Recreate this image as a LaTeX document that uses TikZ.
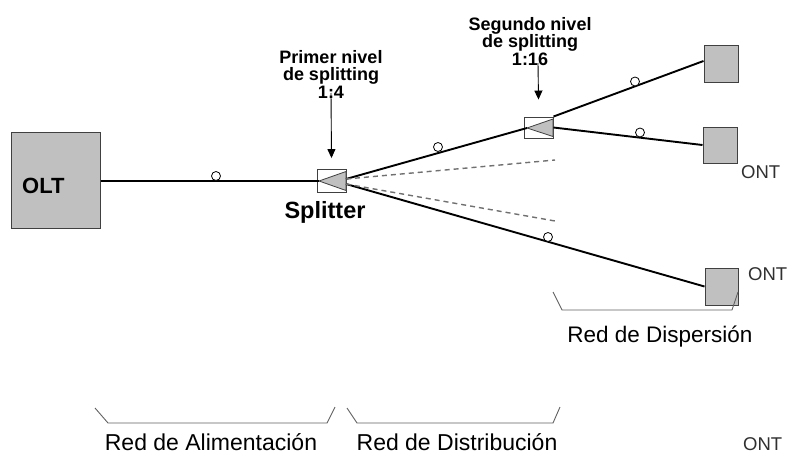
\documentclass[tikz,border=0pt]{standalone}
\usepackage{fontspec}
\setmainfont{Liberation Sans}
\usetikzlibrary{arrows.meta}
\definecolor{boxgray}{HTML}{C0C0C0}
\definecolor{edgegray}{HTML}{404040}
\definecolor{brkgray}{HTML}{606060}
\definecolor{dashgray}{HTML}{707070}
\definecolor{txtgray}{HTML}{303030}
\begin{document}
\begin{tikzpicture}[x=1pt,y=-1pt,
  box/.style={draw=edgegray, fill=boxgray, line width=1pt, inner sep=0pt},
  splitbox/.style={draw=edgegray, fill=white, line width=0.9pt, inner sep=0pt},
  wedge/.style={draw=edgegray, fill=boxgray, line width=0.8pt},
  fiber/.style={line width=1.9pt, black},
  tap/.style={circle, draw=black, fill=white, line width=0.8pt, minimum size=9pt, inner sep=0pt},
  dashfiber/.style={dashgray, line width=1.4pt, dash pattern=on 5pt off 4pt},
  pointer/.style={line width=0.9pt, -{Triangle[length=9pt,width=8pt]}},
  bracket/.style={brkgray, line width=0.9pt},
  lvl/.style={font=\bfseries\fontsize{18}{17.5}\selectfont, align=center, inner sep=0pt, anchor=north},
  netlbl/.style={font=\fontsize{22.5}{24}\selectfont, inner sep=0pt, anchor=base},
  ontlbl/.style={font=\fontsize{18.5}{20}\selectfont, text=txtgray, inner sep=0pt, anchor=base}]
\useasboundingbox (0,0) rectangle (787,455);

% OLT
\node[box, minimum width=89pt, minimum height=96pt] (olt) at (55.5,180) {};
\node[font=\bfseries\fontsize{22}{24}\selectfont, anchor=base west, inner sep=0pt] (oltlbl) at (22,193) {OLT};

% splitters
\node[splitbox, minimum width=29pt, minimum height=23pt] (sp1) at (331.5,181) {};
\fill[wedge] (319,181) -- (346,171.5) -- (346,190.5) -- cycle;
\coordinate (sp1apex) at (319,181);
\coordinate (s1u) at (346,179);
\coordinate (s1d) at (346,184);

\node[splitbox, minimum width=29pt, minimum height=21pt] (sp2) at (538.5,127.5) {};
\fill[wedge] (527,128) -- (553,119) -- (553,136.5) -- cycle;
\coordinate (sp2apex) at (527,128);

% ONTs
\node[box, minimum width=34pt, minimum height=37pt] (ont1) at (721,63.5) {};
\node[box, minimum width=34pt, minimum height=36pt] (ont2) at (720,145) {};
\node[box, minimum width=33pt, minimum height=37pt] (ont3) at (721.5,286.5) {};

% fibers
\draw[fiber] (olt.east |- sp1apex) -- (sp1apex);
\draw[fiber] (s1u) -- (sp2apex);
\draw[fiber] (sp2.north east) -- ([yshift=2.5pt]ont1.west);
\draw[fiber] (sp2.east) -- (ont2.west);
\draw[fiber] (s1d) -- (ont3.west);

\coordinate (d1) at (555,160);
\coordinate (d2) at (555,221);
\draw[dashfiber] (s1u) -- (d1);
\draw[dashfiber] (s1d) -- (d2);

% taps
\node[tap] (t0) at (216,176) {};
\node[tap] (t1) at (438,147) {};
\node[tap] (t2) at (635,81.5) {};
\node[tap] (t3) at (640,132.5) {};
\node[tap] (t4) at (548,237) {};

% splitting level labels and arrows
\node[lvl] (lv1) at (331,50) {Primer nivel\\de splitting\\1:4};
\coordinate (a1) at (331,93);
\draw[pointer] (a1) -- ([yshift=11pt]sp1.north);

\node[lvl] (lv2) at (530,17) {Segundo nivel\\de splitting\\1:16};
\coordinate (a2) at (538,63);
\draw[pointer] (a2) -- ([yshift=17pt]sp2.north);

\node[font=\bfseries\fontsize{23.5}{25}\selectfont, anchor=base, inner sep=0pt] (splbl) at (325,218) {Splitter};

% ONT labels
\node[ontlbl, anchor=base west] (on2) at (741,178) {ONT};
\node[ontlbl, anchor=base west] (on3) at (748,280) {ONT};
\node[ontlbl, anchor=base west] (on4) at (743,450) {ONT};

% brackets
\draw[bracket] (553,292) -- (562,310) -- (732,310) -- (738,292);
\node[netlbl] (rdisp) at (660,342) {Red de Dispersión};

\draw[bracket] (95,408) -- (108,423) -- (327,423) -- (335,407);
\node[netlbl, font=\fontsize{23}{25}\selectfont] (ralim) at (211,450) {Red de Alimentación};

\draw[bracket] (347,408) -- (357,423) -- (553,423) -- (560,407);
\node[netlbl, font=\fontsize{23}{25}\selectfont] (rdist) at (457,450) {Red de Distribución};
\end{tikzpicture}
\end{document}
